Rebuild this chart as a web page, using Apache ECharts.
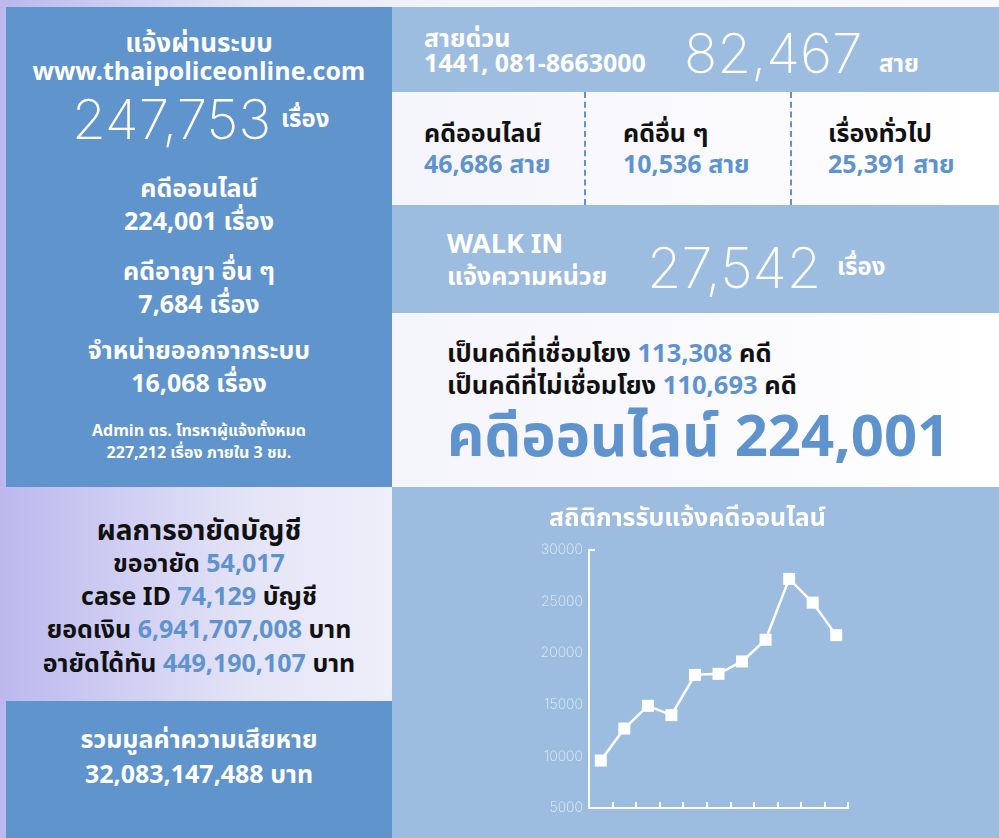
<!DOCTYPE html>
<html>
<head>
<meta charset="utf-8">
<script src="https://cdn.jsdelivr.net/npm/echarts@6/dist/echarts.min.js"></script>
<style>
    html,body{margin:0;padding:0;}
    body{
        width:999px;height:838px;overflow:hidden;position:relative;
        background:linear-gradient(90deg,#bcb8ee 0%,#e4e4f7 25%,#f3f3fb 45%,#f7f7fc 100%);
        font-family:"Noto Sans Thai","Kanit","Sarabun","Loma","Garuda","Noto Sans",sans-serif;
        font-weight:700;
    }
    .box{position:absolute;}
    .dark{background:#6094cc;}
    .light{background:#9dbde0;}
    .t{position:absolute;white-space:nowrap;line-height:1;}
    .c{text-align:center;}
    .w{color:#fff;}
    .k{color:#111;}
    .b{color:#5f93cd;}
    .thin{font-family:"Inter","Roboto",sans-serif;font-weight:200;}
    .dash{position:absolute;top:92px;height:113px;width:0;border-left:2px dashed #5f93cd;}
    #line-chart{position:absolute;left:392px;top:487px;width:607px;height:351px;}
</style>
</head>
<body>
<!-- 面板 -->
<div class="box dark" style="left:6px;top:7px;width:386px;height:480px;"></div>
<div class="box dark" style="left:6px;top:701px;width:386px;height:137px;"></div>
<div class="box light" style="left:392px;top:7px;width:607px;height:85px;"></div>
<div class="box" style="left:392px;top:92px;width:607px;height:113px;background:linear-gradient(90deg,#f4f4fb,#ffffff);"></div>
<div class="box light" style="left:392px;top:205px;width:607px;height:108px;"></div>
<div class="box" style="left:392px;top:313px;width:607px;height:174px;background:linear-gradient(90deg,#f4f4fb,#ffffff);"></div>
<div class="box light" style="left:392px;top:487px;width:607px;height:351px;"></div>
<div class="dash" style="left:584px;"></div>
<div class="dash" style="left:790px;"></div>

<!-- 左列 -->
<div class="t c w" style="left:6px;width:386px;top:31px;font-size:26px;">แจ้งผ่านระบบ</div>
<div class="t c w" style="left:6px;width:386px;top:60px;font-size:25px;">www.thaipoliceonline.com</div>
<div class="t w thin" style="left:72px;top:92px;font-size:55px;">247,753</div>
<div class="t w" style="left:281px;top:108px;font-size:24px;">เรื่อง</div>
<div class="t c w" style="left:6px;width:386px;top:177px;font-size:25px;">คดีออนไลน์</div>
<div class="t c w" style="left:6px;width:386px;top:210px;font-size:25px;">224,001 เรื่อง</div>
<div class="t c w" style="left:6px;width:386px;top:260px;font-size:25px;">คดีอาญา อื่น ๆ</div>
<div class="t c w" style="left:6px;width:386px;top:293px;font-size:25px;">7,684 เรื่อง</div>
<div class="t c w" style="left:6px;width:386px;top:339px;font-size:25px;">จำหน่ายออกจากระบบ</div>
<div class="t c w" style="left:6px;width:386px;top:372px;font-size:25px;">16,068 เรื่อง</div>
<div class="t c w" style="left:6px;width:386px;top:423px;font-size:16px;">Admin ตร. โทรหาผู้แจ้งทั้งหมด</div>
<div class="t c w" style="left:6px;width:386px;top:445px;font-size:16px;">227,212 เรื่อง ภายใน 3 ชม.</div>

<div class="t c k" style="left:6px;width:386px;top:518px;font-size:28px;">ผลการอายัดบัญชี</div>
<div class="t c k" style="left:6px;width:386px;top:552px;font-size:25px;">ขออายัด <span class="b">54,017</span></div>
<div class="t c k" style="left:6px;width:386px;top:585px;font-size:25px;">case ID <span class="b">74,129</span> บัญชี</div>
<div class="t c k" style="left:6px;width:386px;top:618px;font-size:25px;">ยอดเงิน <span class="b">6,941,707,008</span> บาท</div>
<div class="t c k" style="left:6px;width:386px;top:652px;font-size:25px;">อายัดได้ทัน <span class="b">449,190,107</span> บาท</div>

<div class="t c w" style="left:6px;width:386px;top:728px;font-size:25px;">รวมมูลค่าความเสียหาย</div>
<div class="t c w" style="left:6px;width:386px;top:763px;font-size:25px;">32,083,147,488 บาท</div>

<!-- 右列 -->
<div class="t w" style="left:424px;top:27px;font-size:25px;">สายด่วน</div>
<div class="t w" style="left:424px;top:52px;font-size:25px;">1441, 081-8663000</div>
<div class="t w thin" style="left:684px;top:26px;font-size:55px;">82,467</div>
<div class="t w" style="left:879px;top:53px;font-size:24px;">สาย</div>

<div class="t k" style="left:424px;top:122px;font-size:25px;">คดีออนไลน์</div>
<div class="t b" style="left:424px;top:153px;font-size:25px;">46,686 สาย</div>
<div class="t k" style="left:623px;top:122px;font-size:25px;">คดีอื่น ๆ</div>
<div class="t b" style="left:623px;top:153px;font-size:25px;">10,536 สาย</div>
<div class="t k" style="left:828px;top:122px;font-size:25px;">เรื่องทั่วไป</div>
<div class="t b" style="left:828px;top:153px;font-size:25px;">25,391 สาย</div>

<div class="t w" style="left:447px;top:231px;font-size:27px;">WALK IN</div>
<div class="t w" style="left:447px;top:265px;font-size:25px;">แจ้งความหน่วย</div>
<div class="t w thin" style="left:647px;top:240px;font-size:56px;">27,542</div>
<div class="t w" style="left:837px;top:256px;font-size:24px;">เรื่อง</div>

<div class="t k" style="left:447px;top:342px;font-size:25.5px;">เป็นคดีที่เชื่อมโยง <span class="b">113,308</span> คดี</div>
<div class="t k" style="left:447px;top:374px;font-size:25.5px;">เป็นคดีที่ไม่เชื่อมโยง <span class="b">110,693</span> คดี</div>
<div class="t b" style="left:447px;top:409px;font-size:58px;">คดีออนไลน์ 224,001</div>

<div id="line-chart"></div>

<script>
    //สถิติการรับแจ้งคดีออนไลน์
    var periods = ['1', '2', '3', '4', '5', '6', '7', '8', '9', '10', '11'];
    var caseCounts = [9600, 12700, 14900, 14000, 17900, 18000, 19200, 21300, 27200, 24900, 21750];
    var yTicks = [5000, 10000, 15000, 20000, 25000, 30000];

    var CaseChart = echarts.init(document.getElementById('line-chart'));
    var CaseOption = {
        title: {
            text: 'สถิติการรับแจ้งคดีออนไลน์',
            left: 152,
            top: 16,
            textStyle: {
                color: '#fff',
                fontSize: 25,
                fontWeight: 'bold',
                fontFamily: '"Noto Sans Thai","Kanit","Noto Sans",sans-serif'
            }
        },
        grid: {
            left: 197,
            right: 151,
            top: 63,
            bottom: 30
        },
        xAxis: {
            type: 'category',
            data: periods,
            boundaryGap: true,
            axisLine: {show: true, lineStyle: {color: '#fff', width: 2}},
            axisTick: {show: true, inside: true, length: 6, lineStyle: {color: '#fff', width: 2}},
            axisLabel: {show: false}
        },
        yAxis: {
            type: 'value',
            min: yTicks[0],
            max: yTicks[yTicks.length - 1],
            interval: 5000,
            axisLine: {show: true, lineStyle: {color: '#fff', width: 2}},
            axisTick: {
                show: true,
                inside: true,
                length: 6,
                customValues: [yTicks[yTicks.length - 1]],
                lineStyle: {color: '#fff', width: 2}
            },
            splitLine: {show: false},
            axisLabel: {
                color: 'rgba(255,255,255,0.75)',
                fontSize: 14,
                fontFamily: 'Inter, Roboto, sans-serif',
                fontWeight: 200,
                margin: 6,
                formatter: function (v) { return String(v); }
            }
        },
        series: [{
            name: 'คดีออนไลน์',
            type: 'line',
            data: caseCounts,
            symbol: 'rect',
            symbolSize: 12,
            lineStyle: {color: '#fff', width: 2.5},
            itemStyle: {color: '#fff'},
            animation: false
        }]
    };
    CaseChart.setOption(CaseOption);
</script>
</body>
</html>
